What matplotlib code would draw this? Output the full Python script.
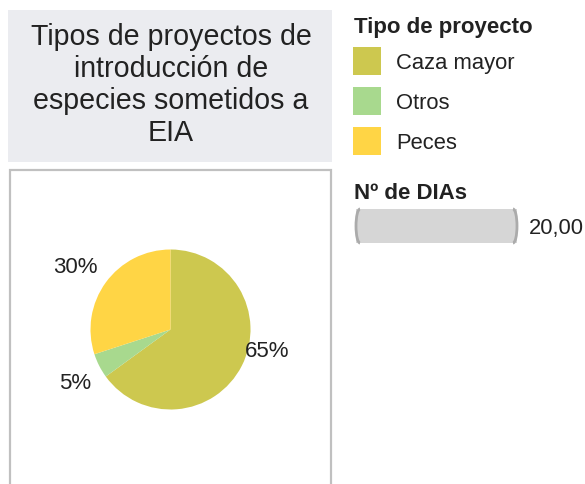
import matplotlib
matplotlib.use("Agg")
import matplotlib.pyplot as plt
from matplotlib.patches import Rectangle, Arc
import numpy as np

plt.rcParams['font.family'] = ['Liberation Sans', 'DejaVu Sans']

# ---- data ----
categories = ["Caza mayor", "Otros", "Peces"]
values = [65, 5, 30]
colors = ["#CDC84F", "#A8D98E", "#FFD545"]
title_text = "Tipos de proyectos de\nintroducción de\nespecies sometidos a\nEIA"
legend_title = "Tipo de proyecto"
size_title = "Nº de DIAs"
size_value = 20.00

W, H = 585, 485
fig = plt.figure(figsize=(W / 100, H / 100), dpi=100)

# overlay axes in pixel coordinates (y downward)
ov = fig.add_axes([0, 0, 1, 1])
ov.set_xlim(0, W)
ov.set_ylim(H, 0)
ov.axis("off")

# title box
ov.add_patch(Rectangle((8, 11), 324, 152, facecolor="#EBECF0", edgecolor="none"))
ov.text(171, 85, title_text, ha="center", va="center", fontsize=20.6,
        color="#222222", linespacing=1.17)

# plot frame
ov.plot([10, 10, 331, 331], [H + 5, 171, 171, H + 5], color="#C0C0C0", lw=1.6,
        solid_joinstyle="miter")

# legend
ov.text(354, 28, legend_title, ha="left", va="center", fontsize=16,
        fontweight="bold", color="#222222")
for i, (cat, col) in enumerate(zip(categories, colors)):
    yc = 62 + i * 40
    ov.add_patch(Rectangle((353, yc - 14), 28, 28, facecolor=col, edgecolor="none"))
    ov.text(396, yc + 1.5, cat, ha="left", va="center", fontsize=15.8, color="#222222")

# size legend
ov.text(354, 194, size_title, ha="left", va="center", fontsize=16,
        fontweight="bold", color="#222222")
ov.add_patch(Rectangle((356, 210), 161, 34, facecolor="#D6D6D6", edgecolor="none"))
ov.add_patch(Arc((360, 227), 8, 34, theta1=90, theta2=270, color="#ABABAB", lw=2))
ov.add_patch(Arc((513, 227), 8, 34, theta1=-90, theta2=90, color="#ABABAB", lw=2))
ov.text(529, 229, f"{size_value:.2f}".replace(".", ","), ha="left", va="center",
        fontsize=15.8, color="#222222")

# pie axes
cx, cy, r = 170.5, 330.5, 80
ax = fig.add_axes([(cx - r) / W, (H - cy - r) / H, 2 * r / W, 2 * r / H])
wedges, _ = ax.pie(values, colors=colors, startangle=90, counterclock=False,
                   radius=1, wedgeprops=dict(linewidth=0))
ax.set_xlim(-1, 1)
ax.set_ylim(-1, 1)
ax.set_aspect("equal")
ax.axis("off")

total = sum(values)
label_offsets = {0: (1.21, -0.26), 1: (-1.19, -0.66), 2: (-1.19, 0.79)}
for i, v in enumerate(values):
    lx, ly = label_offsets[i]
    ax.text(lx, ly, f"{round(100 * v / total)}%", ha="center", va="center",
            fontsize=16, color="#222222", clip_on=False)

fig.savefig("out.png", dpi=100)
